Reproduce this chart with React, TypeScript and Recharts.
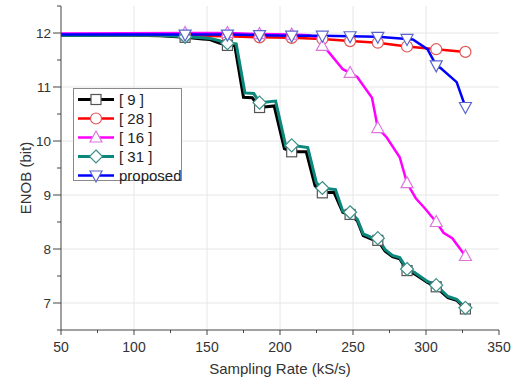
import React from 'react';
import { LineChart, Line, XAxis, YAxis, CartesianGrid, Legend } from 'recharts';

const rates9 = [50, 100, 118, 135, 147, 152, 158, 164, 169, 175, 181, 186, 196, 203, 208, 218, 224, 229, 237, 243, 248, 253, 257, 263, 267, 272, 277, 282, 287, 292, 301, 307, 310, 315, 321, 327];
const enob9 = [11.96, 11.96, 11.95, 11.92, 11.89, 11.88, 11.82, 11.77, 11.77, 10.81, 10.8, 10.62, 10.65, 9.86, 9.8, 9.8, 9.17, 9.04, 9.05, 8.68, 8.64, 8.52, 8.25, 8.18, 8.16, 7.96, 7.86, 7.82, 7.6, 7.54, 7.38, 7.3, 7.22, 7.1, 7.05, 6.89];

const rates31 = [50, 100, 118, 135, 147, 152, 158, 164, 170, 176, 182, 186, 197, 204, 208, 219, 225, 229, 238, 243, 248, 253, 257, 263, 267, 272, 277, 282, 287, 292, 301, 307, 310, 315, 321, 327];
const enob31 = [11.96, 11.96, 11.96, 11.93, 11.91, 11.9, 11.86, 11.81, 11.8, 10.89, 10.88, 10.71, 10.74, 9.9, 9.92, 9.88, 9.22, 9.13, 9.1, 8.7, 8.68, 8.55, 8.28, 8.21, 8.2, 7.99, 7.88, 7.84, 7.63, 7.57, 7.4, 7.33, 7.25, 7.12, 7.07, 6.91];

const rates28 = [50, 135, 164, 186, 208, 229, 248, 267, 287, 307, 327];
const enob28 = [11.97, 11.95, 11.94, 11.92, 11.91, 11.89, 11.85, 11.82, 11.75, 11.7, 11.65];

const rates16 = [50, 135, 164, 186, 208, 220, 225, 229, 233, 243, 248, 253, 263, 267, 273, 282, 287, 293, 299, 307, 312, 318, 327];
const enob16 = [11.99, 12.0, 12.0, 11.98, 11.97, 11.96, 11.92, 11.76, 11.66, 11.33, 11.26, 11.18, 10.8, 10.24, 10.07, 9.7, 9.22, 8.94, 8.76, 8.5, 8.3, 8.2, 7.87];

const ratesP = [50, 135, 164, 186, 208, 229, 248, 267, 287, 291, 301, 307, 310, 321, 327];
const enobP = [11.97, 11.97, 11.97, 11.96, 11.95, 11.95, 11.94, 11.93, 11.89, 11.88, 11.7, 11.4, 11.35, 11.09, 10.63];

const markerRates = [135, 164, 186, 208, 229, 248, 267, 287, 307, 327];

const xTicks = [50, 75, 100, 125, 150, 175, 200, 225, 250, 275, 300, 325, 350];
const yTicks = [6.5, 7, 7.5, 8, 8.5, 9, 9.5, 10, 10.5, 11, 11.5, 12, 12.5];
const xGrid = [100, 150, 200, 250, 300];
const yGrid = [7, 8, 9, 10, 11, 12];

const seriesNames = ['[ 9 ]', '[ 28 ]', '[ 16 ]', '[ 31 ]', 'proposed'];

const zip = (xs: number[], ys: number[]) => xs.map((x, i) => ({ x, y: ys[i] }));

const series = [
  { key: 's9', name: seriesNames[0], data: zip(rates9, enob9), color: '#000000', mstroke: '#555555', shape: 'square', width: 3 },
  { key: 's28', name: seriesNames[1], data: zip(rates28, enob28), color: '#ff0000', mstroke: '#e05858', shape: 'circle', width: 2.5 },
  { key: 's16', name: seriesNames[2], data: zip(rates16, enob16), color: '#ff00ff', mstroke: '#dd77dd', shape: 'triangle', width: 2.5 },
  { key: 's31', name: seriesNames[3], data: zip(rates31, enob31), color: '#0b877c', mstroke: '#3c8f88', shape: 'diamond', width: 3 },
  { key: 'sP', name: seriesNames[4], data: zip(ratesP, enobP), color: '#0000ff', mstroke: '#5a66cc', shape: 'triangleDown', width: 2.5 },
];

const FONT = 'Arial, "Liberation Sans", sans-serif';

function Marker({ shape, cx, cy, stroke }: { shape: string; cx: number; cy: number; stroke: string }) {
  const common = { fill: '#ffffff', stroke, strokeWidth: 1.2 };
  if (shape === 'square') return <rect x={cx - 5} y={cy - 5} width={10} height={10} {...common} />;
  if (shape === 'circle') return <circle cx={cx} cy={cy} r={5.5} {...common} />;
  if (shape === 'triangle')
    return <polygon points={`${cx},${cy - 6.5} ${cx - 6},${cy + 4.5} ${cx + 6},${cy + 4.5}`} {...common} />;
  if (shape === 'diamond')
    return <polygon points={`${cx},${cy - 6.5} ${cx + 6.5},${cy} ${cx},${cy + 6.5} ${cx - 6.5},${cy}`} {...common} />;
  return <polygon points={`${cx},${cy + 6.5} ${cx - 6},${cy - 4.5} ${cx + 6},${cy - 4.5}`} {...common} />;
}

const XTick = (props: any) => {
  const { x, y, payload } = props;
  const major = payload.value % 50 === 0;
  return (
    <g>
      <line x1={x} x2={x} y1={y} y2={y + (major ? 5 : 3)} stroke="#444" strokeWidth={1} />
      {major && (
        <text x={x} y={y + 22} textAnchor="middle" fontSize={14} fill="#333" fontFamily={FONT}>
          {payload.value}
        </text>
      )}
    </g>
  );
};

const YTick = (props: any) => {
  const { x, y, payload } = props;
  const major = Number.isInteger(payload.value);
  return (
    <g>
      <line x1={x} x2={x - (major ? 8 : 4)} y1={y} y2={y} stroke="#444" strokeWidth={1} />
      {major && (
        <text x={x - 10} y={y + 5} textAnchor="end" fontSize={13.5} fill="#333" fontFamily={FONT}>
          {payload.value}
        </text>
      )}
    </g>
  );
};

const LegendBox = () => (
  <div
    style={{
      border: '1px solid #8a8a8a',
      background: '#ffffff',
      width: 109,
      height: 93,
      boxSizing: 'border-box',
      position: 'relative',
      fontFamily: FONT,
    }}
  >
    {series.map((s, i) => (
      <div key={s.key} style={{ position: 'absolute', left: 0, top: 1 + i * 19, height: 19, display: 'flex', alignItems: 'center' }}>
        <svg width={44} height={19} style={{ display: 'block' }}>
          <line x1={4} x2={40} y1={9.5} y2={9.5} stroke={s.color} strokeWidth={s.width} />
          <Marker shape={s.shape} cx={22} cy={9.5} stroke={s.mstroke} />
        </svg>
        <span style={{ fontSize: 15, color: '#222', marginLeft: 1, lineHeight: '19px', whiteSpace: 'nowrap' }}>{s.name}</span>
      </div>
    ))}
  </div>
);

export default function App() {
  return (
    <div style={{ position: 'absolute', left: 0, top: 0, width: 515, height: 381, background: '#fff' }}>
      <LineChart width={515} height={381} margin={{ top: 6, right: 16, bottom: 0, left: 0 }}>
        <CartesianGrid
          stroke="#e6e6e6"
          strokeWidth={1}
          verticalValues={xGrid}
          horizontalValues={yGrid}
        />
        <XAxis
          type="number"
          dataKey="x"
          domain={[50, 350]}
          ticks={xTicks}
          interval={0}
          allowDataOverflow
          height={51}
          tickSize={0}
          tickMargin={0}
          tickLine={false}
          tick={<XTick />}
          stroke="#444"
          label={{
            content: (p: any) => {
              const vb = p.viewBox || { x: 61, y: 330, width: 438 };
              return (
                <text x={vb.x + vb.width / 2} y={vb.y + 44} textAnchor="middle" fontSize={15} fill="#333" fontFamily={FONT}>
                  Sampling Rate (kS/s)
                </text>
              );
            },
          }}
        />
        <YAxis
          type="number"
          domain={[6.5, 12.5]}
          ticks={yTicks}
          interval={0}
          allowDataOverflow
          width={61}
          tickSize={0}
          tickMargin={0}
          tickLine={false}
          tick={<YTick />}
          stroke="#444"
          label={{
            content: (p: any) => {
              const vb = p.viewBox || { x: 0, y: 6, height: 324 };
              const cx = 25;
              const cy = vb.y + vb.height / 2 + 10;
              return (
                <text x={cx} y={cy} transform={`rotate(-90 ${cx} ${cy})`} textAnchor="middle" dominantBaseline="central" fontSize={15} fill="#333" fontFamily={FONT}>
                  ENOB (bit)
                </text>
              );
            },
          }}
        />
        {series.map((s) => (
          <Line
            key={s.key}
            data={s.data}
            dataKey="y"
            name={s.name}
            type="linear"
            stroke={s.color}
            strokeWidth={s.width}
            isAnimationActive={false}
            dot={(p: any) =>
              markerRates.includes(p.payload.x) ? (
                <Marker key={`${s.key}-${p.index}`} shape={s.shape} cx={p.cx} cy={p.cy} stroke={s.mstroke} />
              ) : (
                <g key={`${s.key}-${p.index}`} />
              )
            }
            activeDot={false}
          />
        ))}
        <Legend
          layout="vertical"
          align="center"
          verticalAlign="middle"
          width={111}
          height={95}
          wrapperStyle={{ left: 73, top: 88, width: 111, height: 95 }}
          content={() => <LegendBox />}
        />
      </LineChart>
    </div>
  );
}
